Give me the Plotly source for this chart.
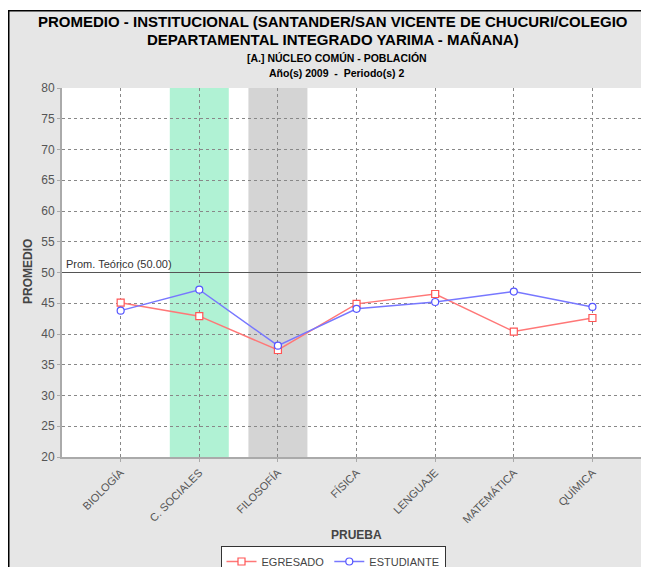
import plotly.graph_objects as go

categories = ["BIOLOGÍA", "C. SOCIALES", "FILOSOFÍA", "FÍSICA", "LENGUAJE", "MATEMÁTICA", "QUÍMICA"]
egresado = [45.1, 42.9, 37.4, 44.9, 46.5, 40.4, 42.6]
estudiante = [43.8, 47.2, 38.1, 44.1, 45.2, 46.9, 44.4]
prom_teorico = 50.0
green_band_cat = "C. SOCIALES"
gray_band_cat = "FILOSOFÍA"

OFF = 8  # page body margin
W, H = 649, 600
# plot area in page pixels
PL, PR, PT, PB = 62, 650, 88, 457
L, T = PL - OFF, PT - OFF
R = W - (PR - OFF)
B = H - (PB - OFF)
pw, ph = W - L - R, H - T - B

def fx(p):  # page px -> paper x
    return (p - PL) / pw

def fy(p):  # page px -> paper y
    return (PB - p) / ph

xs = list(range(len(categories)))

fig = go.Figure()
fig.add_trace(go.Scatter(
    x=xs, y=egresado, name="EGRESADO", mode="lines+markers",
    line=dict(color="#ff7777", width=1.5),
    marker=dict(symbol="square", size=7, color="white", line=dict(color="#ff5555", width=1.2)),
))
fig.add_trace(go.Scatter(
    x=xs, y=estudiante, name="ESTUDIANTE", mode="lines+markers",
    line=dict(color="#7777ff", width=1.5),
    marker=dict(symbol="circle", size=7, color="white", line=dict(color="#5555ff", width=1.2)),
))

shapes = []
gi = categories.index(green_band_cat)
fi = categories.index(gray_band_cat)
shapes.append(dict(type="rect", xref="x", yref="paper", x0=gi - 0.375, x1=gi + 0.375, y0=0, y1=1,
                   fillcolor="#b0f2d4", line=dict(width=0), layer="below"))
shapes.append(dict(type="rect", xref="x", yref="paper", x0=fi - 0.375, x1=fi + 0.375, y0=0, y1=1,
                   fillcolor="#d4d4d4", line=dict(width=0), layer="below"))
shapes.append(dict(type="line", xref="paper", yref="y", x0=0, x1=1, y0=prom_teorico, y1=prom_teorico,
                   line=dict(color="#555555", width=1), layer="above"))
# top white strip + black border
shapes.append(dict(type="rect", xref="paper", yref="paper", x0=fx(0), x1=fx(700), y0=fy(10), y1=fy(0),
                   fillcolor="white", line=dict(width=0), layer="above"))
shapes.append(dict(type="line", xref="paper", yref="paper", x0=fx(8.75), x1=fx(8.75), y0=fy(10), y1=fy(620),
                   line=dict(color="black", width=1.5), layer="above"))
shapes.append(dict(type="line", xref="paper", yref="paper", x0=fx(8), x1=fx(700), y0=fy(10.75), y1=fy(10.75),
                   line=dict(color="black", width=1.5), layer="above"))

annotations = []
title_font = dict(family="Liberation Sans, Arial", size=15, color="black")
annotations.append(dict(text="<b>PROMEDIO - INSTITUCIONAL (SANTANDER/SAN VICENTE DE CHUCURI/COLEGIO</b>",
                        xref="paper", yref="paper", x=fx(333), y=fy(21), showarrow=False,
                        xanchor="center", yanchor="middle", font=title_font))
annotations.append(dict(text="<b>DEPARTAMENTAL INTEGRADO YARIMA - MAÑANA)</b>",
                        xref="paper", yref="paper", x=fx(333), y=fy(40), showarrow=False,
                        xanchor="center", yanchor="middle", font=title_font))
sub_font = dict(family="Liberation Sans, Arial", size=10.5, color="black")
annotations.append(dict(text="<b>[A.] NÚCLEO COMÚN - POBLACIÓN</b>",
                        xref="paper", yref="paper", x=fx(337), y=fy(58), showarrow=False,
                        xanchor="center", yanchor="middle", font=sub_font))
annotations.append(dict(text="<b>Año(s) 2009  -  Periodo(s) 2</b>",
                        xref="paper", yref="paper", x=fx(337), y=fy(73), showarrow=False,
                        xanchor="center", yanchor="middle", font=sub_font))
annotations.append(dict(text="Prom. Teórico (50.00)", xref="paper", yref="y", x=fx(64), y=prom_teorico,
                        showarrow=False, xanchor="left", yanchor="bottom", yshift=1,
                        font=dict(family="Liberation Sans, Arial", size=11, color="#333333")))
axis_title_font = dict(family="Liberation Sans, Arial", size=12, color="#444444")
annotations.append(dict(text="<b>PRUEBA</b>", xref="paper", yref="paper", x=fx(356), y=fy(535),
                        showarrow=False, xanchor="center", yanchor="middle", font=axis_title_font))
annotations.append(dict(text="<b>PROMEDIO</b>", xref="paper", yref="paper", x=fx(28), y=fy(272),
                        showarrow=False, xanchor="center", yanchor="middle", textangle=-90,
                        font=axis_title_font))

fig.update_layout(
    width=W, height=H,
    margin=dict(l=L, r=R, t=T, b=B, pad=0),
    paper_bgcolor="#e6e6e6", plot_bgcolor="white",
    shapes=shapes, annotations=annotations,
    showlegend=True,
    legend=dict(orientation="h", x=fx(333), xanchor="center", y=fy(546), yanchor="top",
                bgcolor="white", bordercolor="#333333", borderwidth=1,
                font=dict(family="Liberation Sans, Arial", size=11, color="#444444"),
                itemwidth=30, tracegroupgap=0),
    font=dict(family="Liberation Sans, Arial"),
)
fig.update_xaxes(
    range=[-0.746, 6.732], tickvals=xs, ticktext=categories, tickangle=-45,
    showgrid=True, gridcolor="#888888", griddash="dot", gridwidth=1,
    showline=True, linecolor="#aaaaaa", linewidth=2,
    ticks="outside", ticklen=3, tickcolor="#aaaaaa",
    tickfont=dict(size=11, color="#555555"),
    zeroline=False,
)
fig.update_yaxes(
    range=[20, 80], dtick=5, tick0=20,
    showgrid=True, gridcolor="#888888", griddash="dot", gridwidth=1,
    showline=True, linecolor="#aaaaaa", linewidth=2,
    ticks="outside", ticklen=3, tickcolor="#aaaaaa",
    tickfont=dict(size=12, color="#555555"),
    zeroline=False,
)

fig.write_html("out.html")
